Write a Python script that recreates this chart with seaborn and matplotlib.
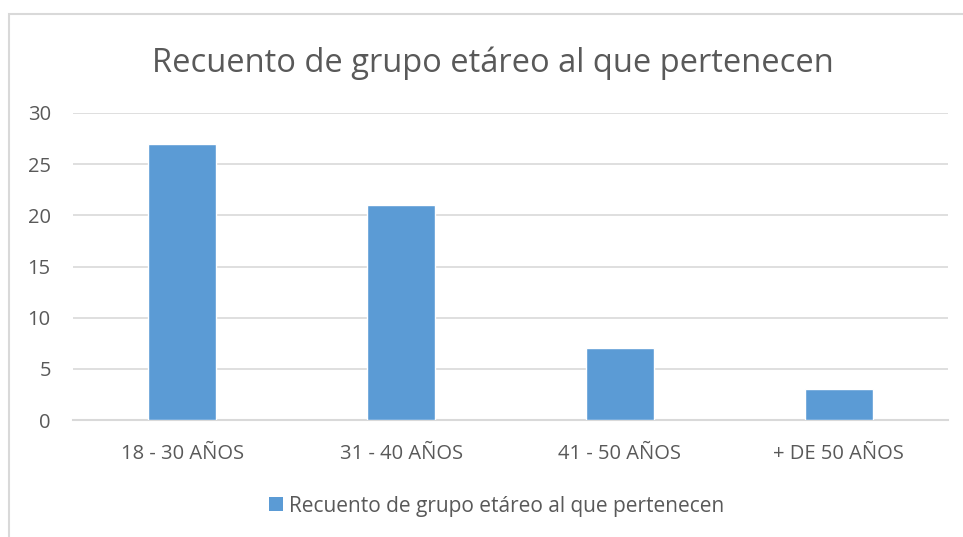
import matplotlib
matplotlib.use("Agg")
import matplotlib.pyplot as plt
import seaborn as sns
import pandas as pd
from matplotlib.patches import Patch, Rectangle

categorias = ["18 - 30 AÑOS", "31 - 40 AÑOS", "41 - 50 AÑOS", "+ DE 50 AÑOS"]
recuento = [27, 21, 7, 3]
titulo = "Recuento de grupo etáreo al que pertenecen"

df = pd.DataFrame({"grupo": categorias, "recuento": recuento})

sns.set_style("white")
plt.rcParams["font.family"] = ["Open Sans", "DejaVu Sans"]

gris_texto = "#595959"
gris_linea = "#D9D9D9"
azul = "#5B9BD5"

fig = plt.figure(figsize=(9.63, 5.37), dpi=100)
ax = fig.add_axes([73 / 963, 1 - 420 / 537, (948 - 73) / 963, (420 - 113) / 537])

sns.barplot(data=df, x="grupo", y="recuento", color=azul, width=0.31,
            saturation=1, ax=ax, zorder=3)

ax.set_ylim(0, 30)
ax.set_yticks(range(0, 31, 5))
ax.yaxis.grid(True, color=gris_linea, linewidth=1.2, zorder=0)
ax.set_axisbelow(True)
for s in ["top", "right", "left"]:
    ax.spines[s].set_visible(False)
ax.spines["bottom"].set_color(gris_linea)
ax.spines["bottom"].set_linewidth(1.5)
ax.set_xlabel("")
ax.set_ylabel("")
ax.tick_params(axis="both", length=0, labelsize=14.5, labelcolor=gris_texto)
ax.tick_params(axis="x", pad=17.5)
ax.tick_params(axis="y", pad=16)

fig.text(0.512, 0.883, titulo, ha="center", va="center", fontsize=23.5, color=gris_texto)

# marco del gráfico
fig.patches.append(Rectangle((9 / 963, -0.1), 1.2, 1 - 14 / 537 + 0.1,
                             transform=fig.transFigure, fill=False,
                             edgecolor=gris_linea, linewidth=1.5))

fig.legend(handles=[Patch(facecolor=azul, edgecolor="none")], labels=[titulo],
           loc="center", bbox_to_anchor=(0.516, 0.0577), frameon=False,
           fontsize=15, labelcolor=gris_texto, handlelength=0.65, handleheight=0.65,
           handletextpad=0.3)

fig.savefig("out.png", dpi=100)
